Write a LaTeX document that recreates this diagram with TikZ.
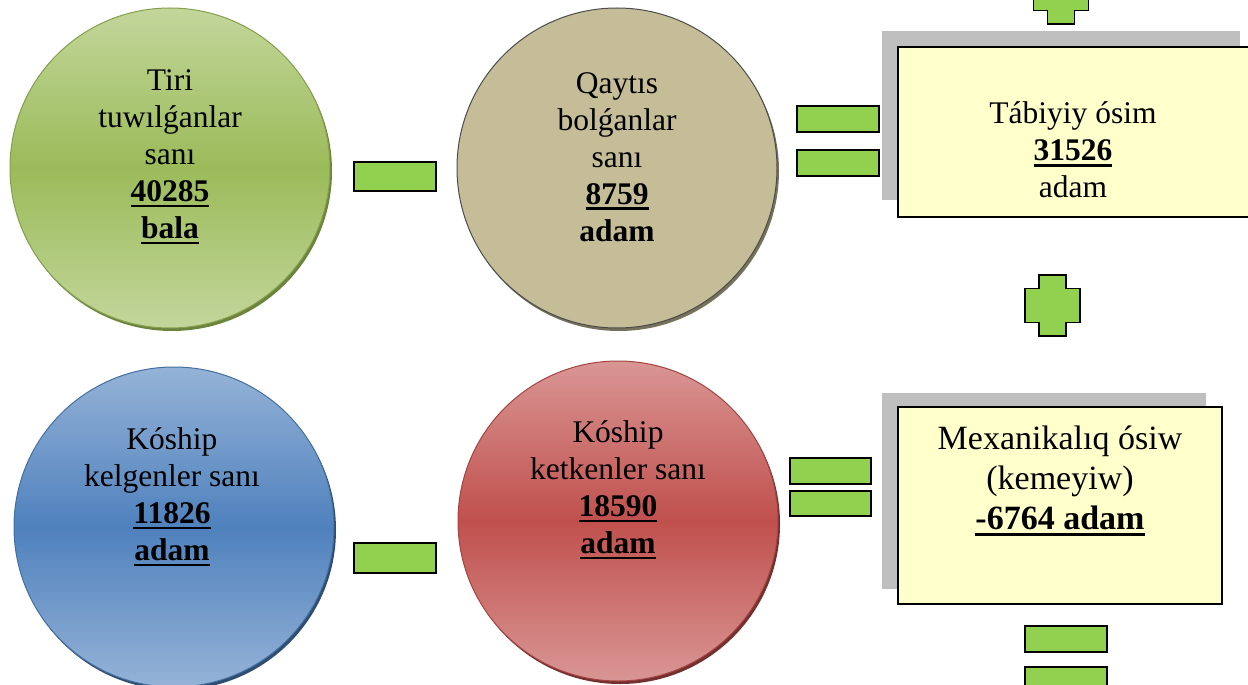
\documentclass[tikz,border=0pt]{standalone}
\usepackage{fontspec}
\setmainfont{Liberation Serif}
\definecolor{grL}{HTML}{C3D69B}
\definecolor{grD}{HTML}{9BBB59}
\definecolor{tanC}{HTML}{C4BD97}
\definecolor{blL}{HTML}{95B3D7}
\definecolor{blD}{HTML}{4F81BD}
\definecolor{rdL}{HTML}{D99694}
\definecolor{rdD}{HTML}{C0504D}
\definecolor{signG}{HTML}{92D050}
\definecolor{boxY}{HTML}{FFFFCC}
\definecolor{shd}{HTML}{BFBFBF}
\newcommand\ulb[1]{\setbox0=\hbox{\bfseries #1}\rlap{\rule[-6pt]{\wd0}{2.8pt}}\box0}
\tikzset{
  ball/.style={circle, minimum size=320pt, inner sep=0pt, line width=1pt},
  ballshadow/.style={circle, minimum size=320pt, inner sep=0pt},
  txt/.style={align=center, font=\fontsize{31.5}{37}\selectfont, text=black, inner sep=0pt},
  ptxt/.style={align=center, font=\fontsize{34}{40}\selectfont, text=black, inner sep=0pt},
  signbox/.style={draw=black, line width=1.5pt, fill=signG, inner sep=0pt},
  panel/.style={draw=black, line width=1.8pt, fill=boxY, inner sep=0pt},
  panelshadow/.style={fill=shd, inner sep=0pt},
  plussign/.pic={\draw[line width=1.5pt, fill=signG] (-13.5,-30.5) -- (13.5,-30.5) -- (13.5,-17) -- (27.5,-17) -- (27.5,17) -- (13.5,17) -- (13.5,30.5) -- (-13.5,30.5) -- (-13.5,17) -- (-27.5,17) -- (-27.5,-17) -- (-13.5,-17) -- cycle;}
}
\begin{document}
\begin{tikzpicture}[x=1pt,y=-1pt]
\useasboundingbox (0,0) rectangle (1248,685);
\clip (0,0) rectangle (1248,685);
% circles
\node[ballshadow, fill=grD!70!black] (c1s) at (172,171) {};
\node[ball, top color=grL, bottom color=grL, middle color=grD, draw=grD!85!black] (c1) at (170,168) {};
\node[ballshadow, fill=tanC!60!black] (c2s) at (619,171) {};
\node[ball, fill=tanC, draw=black!70] (c2) at (617,168) {};
\node[ballshadow, fill=blD!60!black] (c3s) at (176,530) {};
\node[ball, top color=blL, bottom color=blL, middle color=blD, draw=blD!85!black] (c3) at (174,527) {};
\node[ballshadow, fill=rdD!60!black] (c4s) at (620,524) {};
\node[ball, top color=rdL, bottom color=rdL, middle color=rdD, draw=rdD!85!black] (c4) at (618,521) {};
% circle texts
\node[txt] (t1) at (170,157) {Tiri\\tuwılǵanlar\\sanı\\\ulb{40285}\\\ulb{bala}};
\node[txt] (t2) at (617,157) {Qaytıs\\bolǵanlar\\sanı\\\ulb{8759}\\\textbf{adam}};
\node[txt] (t3) at (172,497) {Kóship\\kelgenler sanı\\\ulb{11826}\\\ulb{adam}};
\node[txt] (t4) at (618,490) {Kóship\\ketkenler sanı\\\ulb{18590}\\\ulb{adam}};
% minus signs
\node[signbox, minimum width=82pt, minimum height=29pt] (m1) at (395,176.5) {};
\node[signbox, minimum width=82pt, minimum height=30pt] (m2) at (395,558) {};
% equal signs
\node[signbox, minimum width=82pt, minimum height=26pt] (e1a) at (838,119) {};
\node[signbox, minimum width=82pt, minimum height=26pt] (e1b) at (838,163) {};
\node[signbox, minimum width=81pt, minimum height=26pt] (e2a) at (830.5,471) {};
\node[signbox, minimum width=81pt, minimum height=25pt] (e2b) at (830.5,503.5) {};
\node[signbox, minimum width=82pt, minimum height=26pt] (e3a) at (1066,639) {};
\node[signbox, minimum width=82pt, minimum height=26pt] (e3b) at (1066,680) {};
% panels
\node[panelshadow, minimum width=358pt, minimum height=169pt] (s1) at (1061,115.5) {};
\node[panel, minimum width=364pt, minimum height=170pt] (p1) at (1080,132) {};
\node[txt] (pt1) at (1073,150) {Tábiyiy ósim\\\ulb{31526}\\adam};
\node[panelshadow, minimum width=324pt, minimum height=196pt] (s2) at (1044,491) {};
\node[panel, minimum width=324pt, minimum height=197pt] (p2) at (1060,505.5) {};
\node[ptxt] (pt2) at (1060,481) {Mexanikalıq ósiw\\(kemeyiw)\\\ulb{-6764 adam}};
% plus signs
\pic at (1061,-6.5) {plussign};
\pic at (1052.5,305.5) {plussign};
\end{tikzpicture}
\end{document}
